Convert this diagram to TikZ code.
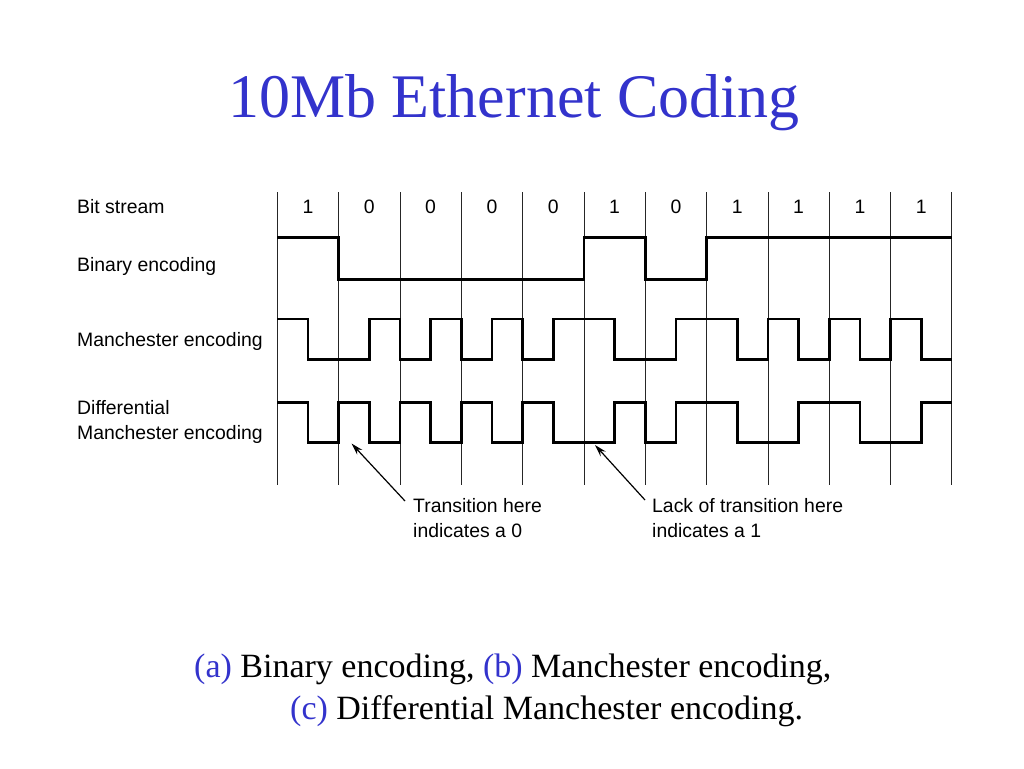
\documentclass[tikz,border=0pt]{standalone}
\usepackage{fontspec}
\setmainfont{Liberation Serif}
\newfontfamily\helv{Liberation Sans}
\usetikzlibrary{arrows.meta}
\definecolor{titleblue}{RGB}{51,51,204}

\begin{document}
\begin{tikzpicture}[x=1pt,y=-1pt,
  grid/.style={line width=0.9pt,black!85},
  sig/.style={line width=2.6pt,line join=miter},
  lbl/.style={font=\helv\fontsize{19.4}{25}\selectfont,inner sep=0pt,align=left},
  arr/.style={line width=1.2pt,-{Stealth[length=12pt,width=7pt]}}]
 \useasboundingbox (0,0) rectangle (1024,768);
 \node[anchor=base,text=titleblue,font=\fontsize{62}{70}\selectfont] (title) at (514,117) {10Mb Ethernet Coding};

 % row labels
 \node[lbl,anchor=base west] (bits) at (77,213) {Bit stream};
 \node[lbl,anchor=base west] (bin) at (77,271.5) {Binary encoding};
 \node[lbl,anchor=base west] (man) at (77,346) {Manchester encoding};
 \node[lbl,anchor=north west] (diff) at (77,400) {Differential\\Manchester encoding};

 \begin{scope}[shift={(277.3,0)},x=61.33pt]
 	\draw[grid] (0,192) -- (0,485);
 	\draw[grid] (1,192) -- (1,485);
 	\draw[grid] (2,192) -- (2,485);
 	\draw[grid] (3,192) -- (3,485);
 	\draw[grid] (4,192) -- (4,485);
 	\draw[grid] (5,192) -- (5,485);
 	\draw[grid] (6,192) -- (6,485);
 	\draw[grid] (7,192) -- (7,485);
 	\draw[grid] (8,192) -- (8,485);
 	\draw[grid] (9,192) -- (9,485);
 	\draw[grid] (10,192) -- (10,485);
 	\draw[grid] (11,192) -- (11,485);
 	\node[lbl,anchor=base] (b0) at (0.5,213) {1};
 	\node[lbl,anchor=base] (b1) at (1.5,213) {0};
 	\node[lbl,anchor=base] (b2) at (2.5,213) {0};
 	\node[lbl,anchor=base] (b3) at (3.5,213) {0};
 	\node[lbl,anchor=base] (b4) at (4.5,213) {0};
 	\node[lbl,anchor=base] (b5) at (5.5,213) {1};
 	\node[lbl,anchor=base] (b6) at (6.5,213) {0};
 	\node[lbl,anchor=base] (b7) at (7.5,213) {1};
 	\node[lbl,anchor=base] (b8) at (8.5,213) {1};
 	\node[lbl,anchor=base] (b9) at (9.5,213) {1};
 	\node[lbl,anchor=base] (b10) at (10.5,213) {1};
 	% binary
 	\draw[sig] (0,237.3) -- (1,237.3) -- (1,279.7) -- (5,279.7) -- (5,237.3) -- (6,237.3)
 		-- (6,279.7) -- (7,279.7) -- (7,237.3) -- (11,237.3);
 	% manchester
 	\draw[sig] (0,319) -- (0.5,319) -- (0.5,359.3) -- (1.5,359.3) -- (1.5,319) -- (2,319)
 		-- (2,359.3) -- (2.5,359.3) -- (2.5,319) -- (3,319) -- (3,359.3) -- (3.5,359.3)
 		-- (3.5,319) -- (4,319) -- (4,359.3) -- (4.5,359.3) -- (4.5,319) -- (5.5,319)
 		-- (5.5,359.3) -- (6.5,359.3) -- (6.5,319) -- (7.5,319) -- (7.5,359.3) -- (8,359.3)
 		-- (8,319) -- (8.5,319) -- (8.5,359.3) -- (9,359.3) -- (9,319) -- (9.5,319)
 		-- (9.5,359.3) -- (10,359.3) -- (10,319) -- (10.5,319) -- (10.5,359.3) -- (11,359.3);
 	% differential manchester
 	\draw[sig] (0,402.3) -- (0.5,402.3) -- (0.5,442.7) -- (1,442.7) -- (1,402.3) -- (1.5,402.3)
 		-- (1.5,442.7) -- (2,442.7) -- (2,402.3) -- (2.5,402.3) -- (2.5,442.7) -- (3,442.7)
 		-- (3,402.3) -- (3.5,402.3) -- (3.5,442.7) -- (4,442.7) -- (4,402.3) -- (4.5,402.3)
 		-- (4.5,442.7) -- (5.5,442.7) -- (5.5,402.3) -- (6,402.3) -- (6,442.7) -- (6.5,442.7)
 		-- (6.5,402.3) -- (7.5,402.3) -- (7.5,442.7) -- (8.5,442.7) -- (8.5,402.3) -- (9.5,402.3)
 		-- (9.5,442.7) -- (10.5,442.7) -- (10.5,402.3) -- (11,402.3);
 \end{scope}

 % notes
 \node[lbl,anchor=north west] (trans) at (413,498) {Transition here\\indicates a 0};
 \node[lbl,anchor=north west] (lack) at (652,498) {Lack of transition here\\indicates a 1};
 \coordinate (tip0) at (351.5,443.5);
 \coordinate (tip1) at (595,445);
 \draw[arr] ([xshift=-8pt,yshift=-3pt]trans.north west) -- (tip0);
 \draw[arr] ([xshift=-7pt,yshift=-2pt]lack.north west) -- (tip1);

 % caption
 \node[anchor=base west,font=\fontsize{34}{40}\selectfont,inner sep=0pt] (capab) at (194,677)
 	{\textcolor{titleblue}{(a)} Binary encoding, \textcolor{titleblue}{(b)} Manchester encoding,};
 \node[anchor=base west,font=\fontsize{34}{40}\selectfont,inner sep=0pt] (capc) at (290,719)
 	{\textcolor{titleblue}{(c)} Differential Manchester encoding.};
\end{tikzpicture}
\end{document}
